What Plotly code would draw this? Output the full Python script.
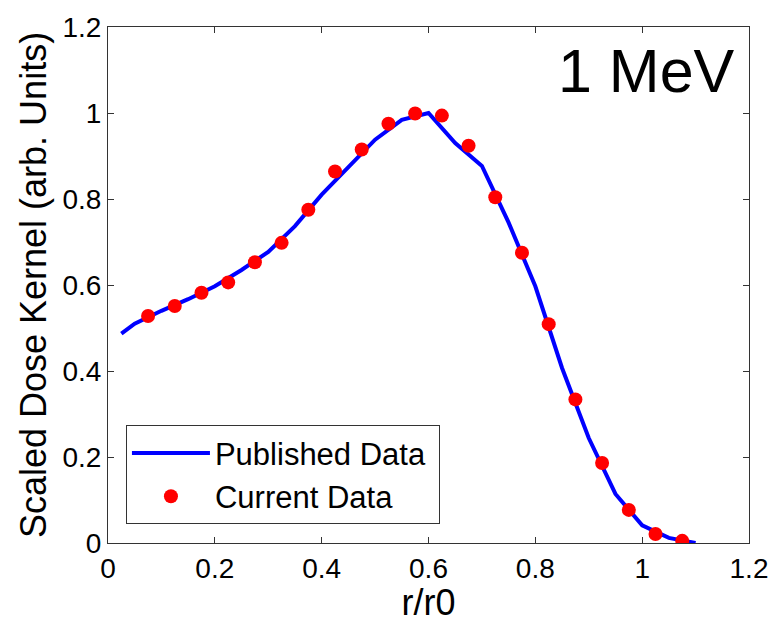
import plotly.graph_objects as go

# Published data (blue line)
pub_x = [0.025, 0.05, 0.1, 0.15, 0.2, 0.25, 0.3, 0.35, 0.4, 0.45, 0.5, 0.55, 0.6,
         0.65, 0.7, 0.75, 0.8, 0.85, 0.9, 0.95, 1.0, 1.05, 1.1]
pub_y = [0.487, 0.51, 0.54, 0.567, 0.597, 0.635, 0.677, 0.737, 0.81, 0.875, 0.938, 0.984, 1.0,
         0.93, 0.877, 0.745, 0.597, 0.407, 0.244, 0.114, 0.041, 0.012, 0.0]

# Current data (red dots)
cur_x = [0.075, 0.125, 0.175, 0.225, 0.275, 0.325, 0.375, 0.425, 0.475, 0.525, 0.575,
         0.625, 0.675, 0.725, 0.775, 0.825, 0.875, 0.925, 0.975, 1.025, 1.075]
cur_y = [0.528, 0.551, 0.582, 0.606, 0.653, 0.698, 0.775, 0.864, 0.915, 0.975, 0.999,
         0.994, 0.924, 0.804, 0.675, 0.509, 0.334, 0.186, 0.077, 0.021, 0.005]

x_ticks = [0, 0.2, 0.4, 0.6, 0.8, 1.0, 1.2]
x_tick_labels = ["0", "0.2", "0.4", "0.6", "0.8", "1", "1.2"]
y_ticks = [0, 0.2, 0.4, 0.6, 0.8, 1.0, 1.2]
y_tick_labels = ["0", "0.2", "0.4", "0.6", "0.8", "1", "1.2"]

FONT = "Liberation Sans, Arial, Helvetica, sans-serif"

fig = go.Figure()
fig.add_trace(go.Scatter(
    x=pub_x, y=pub_y, mode="lines", name="Published Data\u00a0",
    line=dict(color="#0000FF", width=4),
))
fig.add_trace(go.Scatter(
    x=cur_x, y=cur_y, mode="markers", name="Current Data",
    marker=dict(color="#FF0000", size=14, line=dict(width=0)),
))

axis_common = dict(
    showgrid=False, zeroline=False, showline=True, linecolor="#333333", linewidth=1,
    mirror="ticks", ticks="inside", ticklen=6, tickcolor="#333333",
    tickfont=dict(family=FONT, size=28, color="black"),
)

fig.update_layout(
    width=780, height=623,
    margin=dict(l=108, r=27, t=21, b=80),
    paper_bgcolor="white", plot_bgcolor="white",
    font=dict(family=FONT, color="black"),
    xaxis=dict(range=[0, 1.2], tickvals=x_ticks, ticktext=x_tick_labels,
               title=dict(text="r/r0", font=dict(family=FONT, size=36), standoff=2),
               **axis_common),
    yaxis=dict(range=[0, 1.2], tickvals=y_ticks, ticktext=y_tick_labels,
               title=dict(text="Scaled Dose Kernel (arb. Units)", font=dict(family=FONT, size=36), standoff=4),
               **axis_common),
    legend=dict(
        x=0.028, y=0.228, xanchor="left", yanchor="top",
        bgcolor="white", bordercolor="#333333", borderwidth=1,
        font=dict(family=FONT, size=31, color="black"),
        itemwidth=78, tracegroupgap=0,
    ),
    showlegend=True,
    annotations=[dict(
        text="1 MeV", xref="paper", yref="paper", x=0.982, y=0.915,
        xanchor="right", yanchor="middle", showarrow=False,
        font=dict(family=FONT, size=61, color="black"),
    )],
)

fig.write_html("out.html")
